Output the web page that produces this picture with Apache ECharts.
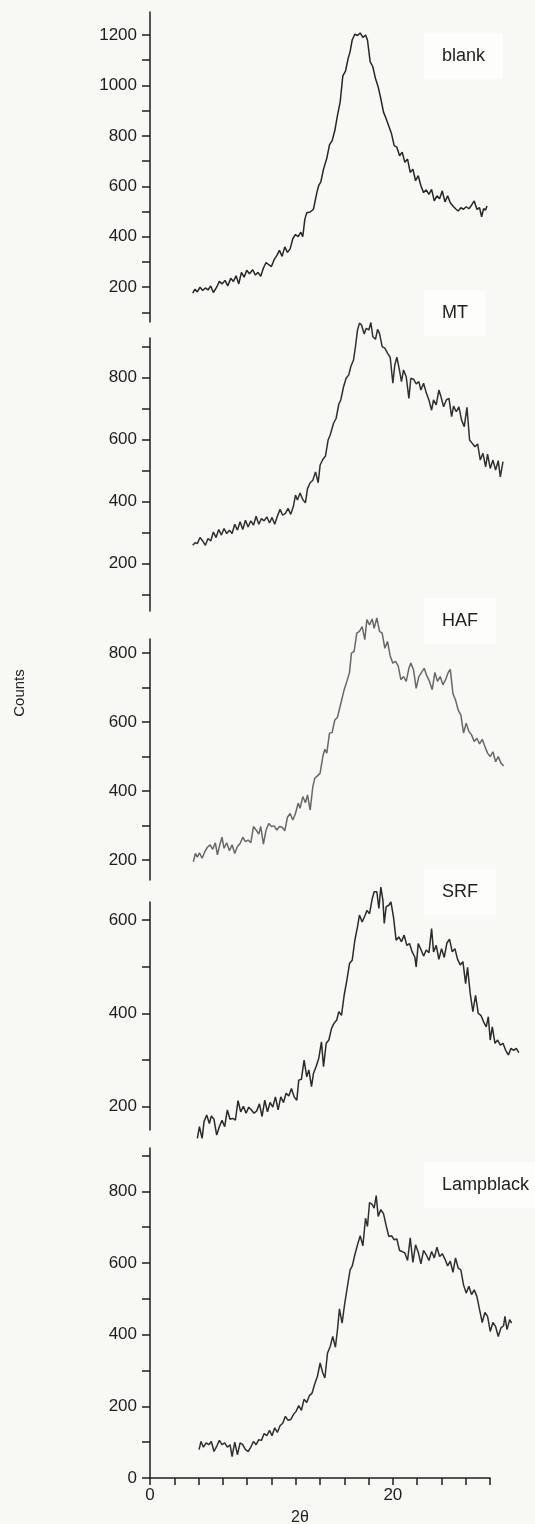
<!DOCTYPE html>
<html>
<head>
<meta charset="utf-8">
<script src="https://cdn.jsdelivr.net/npm/echarts@6/dist/echarts.min.js"></script>
<style>
  html, body { margin: 0; padding: 0; background: #f8f8f5; }
  #chart { width: 535px; height: 1524px; }
</style>
</head>
<body>
<div id="chart"></div>
<script>
// 2θ vs Counts, one panel per sample
const panelNames = ['blank', 'MT', 'HAF', 'SRF', 'Lampblack']

const blank = [[3.52,176],[3.71,192],[3.9,181],[4.12,200],[4.34,187],[4.56,197],[4.78,189],[5.0,205],[5.22,179],[5.49,200],[5.71,223],[5.93,213],[6.18,227],[6.4,205],[6.65,235],[6.87,223],[7.09,245],[7.31,213],[7.53,259],[7.75,240],[7.97,267],[8.19,253],[8.46,269],[8.68,248],[8.9,259],[9.12,243],[9.34,276],[9.56,298],[9.78,289],[10.0,282],[10.22,309],[10.44,325],[10.66,346],[10.88,322],[11.1,360],[11.32,338],[11.54,352],[11.76,392],[11.98,409],[12.2,400],[12.42,418],[12.58,400],[12.75,469],[12.91,495],[13.19,498],[13.46,509],[13.74,575],[13.9,604],[14.07,618],[14.29,668],[14.56,711],[14.78,764],[15.0,781],[15.22,821],[15.44,881],[15.66,934],[15.88,1038],[16.1,1057],[16.32,1107],[16.48,1134],[16.65,1180],[16.87,1203],[17.09,1198],[17.31,1208],[17.53,1190],[17.75,1200],[17.91,1180],[18.13,1094],[18.35,1074],[18.57,1027],[18.79,994],[19.01,947],[19.23,894],[19.45,868],[19.67,838],[19.89,808],[20.11,761],[20.33,755],[20.55,721],[20.77,735],[20.99,695],[21.21,708],[21.43,655],[21.65,668],[21.87,622],[22.09,642],[22.31,602],[22.53,575],[22.75,586],[22.97,568],[23.19,588],[23.41,542],[23.63,562],[23.85,551],[24.07,582],[24.29,538],[24.51,562],[24.73,535],[24.95,522],[25.16,511],[25.38,502],[25.6,515],[25.82,509],[26.04,519],[26.26,511],[26.48,525],[26.7,542],[26.92,509],[27.14,515],[27.31,479],[27.47,511],[27.64,506],[27.75,522]]

const mt = [[3.52,259],[3.71,267],[3.9,265],[4.12,284],[4.34,273],[4.56,259],[4.78,281],[5.0,273],[5.22,302],[5.44,284],[5.66,310],[5.88,292],[6.1,313],[6.32,297],[6.54,308],[6.76,297],[6.98,327],[7.2,308],[7.42,335],[7.64,310],[7.86,340],[8.08,318],[8.3,338],[8.52,324],[8.74,353],[8.96,327],[9.18,345],[9.4,338],[9.62,351],[9.84,331],[10.05,349],[10.27,327],[10.49,353],[10.71,375],[10.93,356],[11.15,362],[11.37,378],[11.59,359],[11.81,385],[11.98,421],[12.14,405],[12.36,428],[12.58,407],[12.8,396],[12.97,442],[13.19,461],[13.41,469],[13.63,496],[13.85,461],[14.01,518],[14.23,536],[14.45,547],[14.67,599],[14.84,615],[15.11,652],[15.33,669],[15.55,715],[15.71,728],[15.93,769],[16.15,798],[16.37,809],[16.54,836],[16.76,857],[16.92,900],[17.09,954],[17.25,976],[17.42,970],[17.64,941],[17.8,959],[18.02,954],[18.19,978],[18.35,932],[18.57,924],[18.74,956],[18.9,943],[19.12,900],[19.34,895],[19.56,879],[19.78,866],[20.0,782],[20.16,841],[20.33,866],[20.55,823],[20.71,787],[20.88,825],[21.1,803],[21.32,733],[21.48,798],[21.7,795],[21.92,780],[22.14,787],[22.31,760],[22.53,782],[22.75,751],[22.97,728],[23.19,695],[23.35,728],[23.57,712],[23.79,760],[23.96,739],[24.18,706],[24.4,728],[24.62,733],[24.84,674],[25.0,708],[25.22,690],[25.44,706],[25.66,663],[25.88,642],[26.1,704],[26.32,599],[26.54,588],[26.76,577],[26.98,586],[27.2,534],[27.42,556],[27.64,512],[27.8,553],[28.02,507],[28.24,534],[28.46,502],[28.68,532],[28.85,480],[29.07,529]]

const haf = [[3.57,195],[3.74,219],[3.9,208],[4.07,221],[4.29,205],[4.51,224],[4.73,237],[4.95,244],[5.16,231],[5.38,250],[5.55,215],[5.71,239],[5.93,266],[6.1,234],[6.32,250],[6.54,227],[6.76,244],[6.98,219],[7.2,239],[7.42,248],[7.64,266],[7.86,253],[8.08,258],[8.3,250],[8.52,297],[8.74,287],[8.96,275],[9.12,297],[9.34,246],[9.56,287],[9.78,306],[10.0,297],[10.22,299],[10.44,287],[10.66,297],[10.88,295],[11.1,285],[11.32,324],[11.54,335],[11.76,316],[11.98,335],[12.2,365],[12.36,350],[12.58,384],[12.8,366],[12.97,389],[13.19,345],[13.41,413],[13.57,437],[13.79,444],[14.01,452],[14.23,500],[14.4,521],[14.56,510],[14.78,568],[15.0,570],[15.22,606],[15.44,614],[15.6,618],[15.82,669],[15.99,694],[16.21,718],[16.43,744],[16.59,800],[16.81,805],[17.03,858],[17.25,863],[17.47,877],[17.69,839],[17.86,897],[18.08,882],[18.3,899],[18.46,872],[18.68,902],[18.9,863],[19.12,858],[19.34,814],[19.56,834],[19.78,792],[20.0,771],[20.22,776],[20.44,763],[20.66,723],[20.88,732],[21.1,718],[21.32,756],[21.48,771],[21.7,752],[21.92,698],[22.14,732],[22.36,744],[22.58,756],[22.8,734],[23.02,718],[23.24,694],[23.46,744],[23.68,718],[23.9,732],[24.12,708],[24.34,723],[24.56,744],[24.73,753],[24.95,682],[25.16,664],[25.38,635],[25.6,621],[25.82,568],[26.04,597],[26.26,573],[26.48,563],[26.7,544],[26.92,553],[27.14,537],[27.36,550],[27.58,529],[27.8,510],[28.02,500],[28.24,514],[28.46,485],[28.68,500],[28.9,481],[29.12,473]]

const srf = [[3.9,132],[4.07,157],[4.29,132],[4.45,168],[4.67,182],[4.89,164],[5.05,180],[5.27,173],[5.49,139],[5.71,157],[5.93,171],[6.15,157],[6.37,193],[6.59,173],[6.81,175],[7.03,171],[7.25,213],[7.47,189],[7.69,201],[7.91,186],[8.13,199],[8.35,193],[8.57,186],[8.79,191],[9.01,206],[9.23,179],[9.45,214],[9.67,189],[9.89,209],[10.11,199],[10.33,221],[10.55,193],[10.77,221],[10.99,209],[11.21,229],[11.43,223],[11.65,239],[11.87,221],[12.09,214],[12.25,257],[12.47,259],[12.69,300],[12.91,264],[13.08,279],[13.3,243],[13.46,271],[13.68,286],[13.9,304],[14.12,339],[14.29,286],[14.51,336],[14.73,343],[14.95,368],[15.16,379],[15.38,386],[15.55,404],[15.77,396],[15.99,439],[16.21,471],[16.43,507],[16.65,514],[16.87,557],[17.09,586],[17.25,611],[17.47,596],[17.69,609],[17.86,621],[18.08,614],[18.3,646],[18.46,661],[18.68,661],[18.85,625],[19.01,671],[19.18,643],[19.29,593],[19.45,629],[19.67,632],[19.84,639],[20.05,607],[20.27,557],[20.49,564],[20.71,554],[20.93,568],[21.15,546],[21.37,550],[21.59,532],[21.81,521],[21.92,500],[22.09,550],[22.31,537],[22.53,523],[22.75,536],[22.97,530],[23.19,582],[23.35,532],[23.57,546],[23.79,516],[24.01,539],[24.23,520],[24.45,551],[24.67,559],[24.89,532],[25.11,539],[25.33,516],[25.55,504],[25.77,511],[25.99,464],[26.15,499],[26.37,443],[26.59,404],[26.81,439],[27.03,400],[27.25,396],[27.47,382],[27.69,371],[27.86,393],[28.02,343],[28.19,371],[28.41,336],[28.63,343],[28.85,332],[29.07,336],[29.29,321],[29.51,311],[29.73,325],[29.95,321],[30.16,325],[30.38,316]]

const lampblack = [[4.04,79],[4.2,102],[4.4,86],[4.62,98],[4.84,93],[5.05,102],[5.27,74],[5.49,88],[5.71,105],[5.93,93],[6.15,98],[6.37,86],[6.59,93],[6.76,60],[6.98,100],[7.2,65],[7.42,98],[7.64,93],[7.86,79],[8.08,74],[8.3,86],[8.52,102],[8.74,93],[8.96,107],[9.18,105],[9.4,124],[9.62,118],[9.84,133],[10.05,118],[10.27,140],[10.49,127],[10.71,146],[10.93,153],[11.15,172],[11.37,161],[11.59,163],[11.81,177],[12.03,186],[12.25,202],[12.47,189],[12.69,220],[12.91,211],[13.13,230],[13.35,237],[13.57,263],[13.79,284],[14.01,321],[14.23,293],[14.4,279],[14.62,349],[14.84,367],[15.05,395],[15.27,365],[15.44,414],[15.6,472],[15.82,432],[16.04,488],[16.26,535],[16.48,581],[16.65,591],[16.87,623],[17.09,651],[17.31,676],[17.53,648],[17.75,725],[17.91,702],[18.08,769],[18.3,763],[18.46,753],[18.63,788],[18.79,730],[19.01,749],[19.23,738],[19.45,704],[19.67,674],[19.89,676],[20.11,665],[20.33,667],[20.55,635],[20.77,632],[20.99,628],[21.21,607],[21.43,670],[21.65,602],[21.87,651],[22.09,630],[22.31,598],[22.53,635],[22.75,623],[22.97,607],[23.19,632],[23.41,614],[23.63,644],[23.85,618],[24.07,626],[24.29,611],[24.51,592],[24.73,605],[24.95,574],[25.16,614],[25.38,586],[25.6,581],[25.82,539],[26.04,516],[26.26,535],[26.48,512],[26.7,525],[26.92,507],[27.14,470],[27.36,434],[27.58,462],[27.8,451],[28.02,409],[28.24,434],[28.46,423],[28.68,395],[28.9,419],[29.12,425],[29.23,451],[29.4,414],[29.62,442],[29.78,432]]

// axis ranges and ticks
const yRanges = [[62, 1291], [47, 928], [142, 841], [150, 639], [0, 921]]
const yTicks = [
  [100, 200, 300, 400, 500, 600, 700, 800, 900, 1000, 1100, 1200],
  [100, 200, 300, 400, 500, 600, 700, 800, 900],
  [200, 300, 400, 500, 600, 700, 800],
  [200, 300, 400, 500, 600],
  [0, 100, 200, 300, 400, 500, 600, 700, 800, 900]
]
const yLabels = [
  [200, 400, 600, 800, 1000, 1200],
  [200, 400, 600, 800],
  [200, 400, 600, 800],
  [200, 400, 600],
  [0, 200, 400, 600, 800]
]
const xTicks = [0, 2, 4, 6, 8, 10, 12, 14, 16, 18, 20, 22, 24, 26, 28]
const xLabels = [0, 20]

const allData = [blank, mt, haf, srf, lampblack]
const lineColors = ['#262626', '#303030', '#686868', '#2a2a2a', '#303030']

// 每个面板的像素位置 (top, height)
const gridPos = [[12, 310], [338, 273], [639, 241], [902, 228], [1148, 330]]
const labelY = [58, 315, 623, 894, 1187]

const font = "'Liberation Sans', Arial, sans-serif"
const axisColor = '#1e1e1e'
const pxPerUnit = 340 / 28 // x 轴比例, 0..28 -> 340px
const dataXMax = 31 // 曲线超出坐标轴右端, 数据网格放宽

const chart = echarts.init(document.getElementById('chart'))

// 数据网格 (5 个) + 底部 x 轴网格 (1 个)
const grids = gridPos.map(p => ({ left: 150, width: pxPerUnit * dataXMax, top: p[0], height: p[1] }))
const last = gridPos[gridPos.length - 1]
grids.push({ left: 150, width: 340, top: last[0], height: last[1] })

const xAxes = gridPos.map((p, i) => ({
  type: 'value',
  gridIndex: i,
  min: 0,
  max: dataXMax,
  show: false
}))
xAxes.push({
  type: 'value',
  gridIndex: 5,
  min: 0,
  max: 28,
  splitLine: { show: false },
  axisLine: { show: true, lineStyle: { color: axisColor, width: 1.5 } },
  axisTick: { show: true, customValues: xTicks, length: 7, lineStyle: { color: axisColor, width: 1.5 } },
  axisLabel: { customValues: xLabels, margin: 9, fontSize: 17, color: axisColor, fontFamily: font }
})

const yAxes = yRanges.map((r, i) => ({
  type: 'value',
  gridIndex: i,
  min: r[0],
  max: r[1],
  splitLine: { show: false },
  axisLine: { show: true, lineStyle: { color: axisColor, width: 1.5 } },
  axisTick: { show: true, customValues: yTicks[i], length: 8, lineStyle: { color: axisColor, width: 1.5 } },
  axisLabel: {
    customValues: yLabels[i],
    formatter: v => String(v),
    margin: 13,
    fontSize: 17,
    color: axisColor,
    fontFamily: font
  }
}))
yAxes.push({ type: 'value', gridIndex: 5, min: 0, max: 921, show: false })

const series = allData.map((d, i) => ({
  type: 'line',
  name: panelNames[i],
  xAxisIndex: i,
  yAxisIndex: i,
  data: d,
  showSymbol: false,
  symbol: 'none',
  clip: false,
  lineStyle: { color: lineColors[i], width: 1.5 }
}))

// 样品名称 (淡白底框) + 轴标题
const graphics = panelNames.map((n, i) => ({
  type: 'text',
  left: 424,
  top: labelY[i] - 25,
  z: 1,
  style: {
    text: n,
    font: '18px ' + font,
    fill: '#222',
    backgroundColor: '#fdfdfc',
    padding: [14, 18, 14, 18]
  }
}))
graphics.push({
  type: 'text',
  x: 20,
  y: 693,
  rotation: Math.PI / 2,
  style: { text: 'Counts', font: '15px ' + font, fill: '#222', align: 'center', verticalAlign: 'middle' }
})
graphics.push({
  type: 'text',
  x: 300,
  y: 1518,
  style: { text: '2θ', font: '16px ' + font, fill: '#222', align: 'center', verticalAlign: 'middle' }
})

chart.setOption({
  backgroundColor: '#f8f8f5',
  animation: false,
  grid: grids,
  xAxis: xAxes,
  yAxis: yAxes,
  series: series,
  graphic: graphics
})
</script>
</body>
</html>
